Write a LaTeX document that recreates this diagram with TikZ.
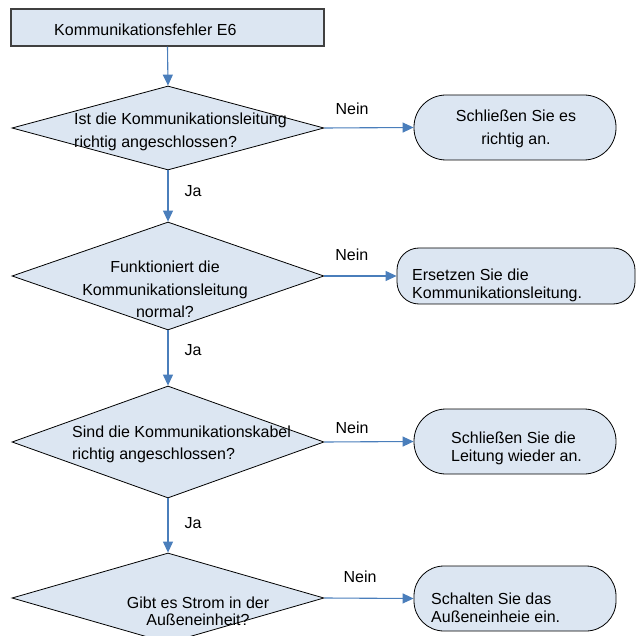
\documentclass[tikz,border=0pt]{standalone}
\usepackage{fontspec}
\setmainfont{Liberation Sans}
\usetikzlibrary{shapes.geometric, arrows.meta, positioning}

\definecolor{boxfill}{RGB}{220,230,242}
\definecolor{arrowblue}{RGB}{74,126,187}

\begin{document}
\begin{tikzpicture}[x=1pt, y=-1pt,
    title/.style={rectangle, draw=black!75, line width=1.2pt, fill=boxfill, minimum width=313pt, minimum height=37pt, inner sep=0pt},
    question/.style={diamond, draw=black, line width=0.8pt, fill=boxfill, inner sep=0pt, minimum width=312pt},
    answer/.style={rectangle, draw=black, line width=0.8pt, fill=boxfill, inner sep=0pt, minimum width=202pt, minimum height=65pt, rounded corners=32pt},
    txt/.style={font=\fontsize{16}{23}\selectfont, inner sep=0pt},
    lbl/.style={font=\fontsize{16}{19}\selectfont, inner sep=0pt},
    arr/.style={-{Triangle[length=11pt, width=10pt]}, line width=1.1pt, draw=arrowblue}
]
    \useasboundingbox (0,0) rectangle (637,636);

    % Kopf: Fehlermeldung
    \node[title] (fault) at (167.5,27.5) {};
    \node[txt, anchor=west] (fault-text) at (54,30) {Kommunikationsfehler E6};

    % Linke Spalte: Abfragen (von oben nach unten)
    \node[question, minimum height=84pt] (q1) at (168,128) {};
    \node[txt, anchor=west, align=left] (q1-text) at (74,131.5) {Ist die Kommunikationsleitung\\richtig angeschlossen?};

    \node[question, minimum height=108pt] (q2) at (168,276) {};
    \node[txt, align=center, font=\fontsize{16}{22.5}\selectfont] (q2-text) at (165,289.5) {Funktioniert die\\Kommunikationsleitung\\normal?};

    \node[question, minimum height=112pt] (q3) at (168,442) {};
    \node[txt, anchor=west, align=left, font=\fontsize{16}{22}\selectfont] (q3-text) at (72,444) {Sind die Kommunikationskabel\\richtig angeschlossen?};

    \node[question, minimum height=90pt] (q4) at (168,598) {};
    \node[txt, align=center, font=\fontsize{16}{17}\selectfont] (q4-text) at (198,611.5) {Gibt es Strom in der\\Außeneinheit?};

    % Rechte Spalte: Massnahmen
    \node[answer] (a1) at (515,127.5) {};
    \node[txt, align=center] (a1-text) at (516,128.5) {Schließen Sie es\\richtig an.};

    \node[answer, minimum width=238pt, minimum height=56pt, rounded corners=22pt] (a2) at (516,276) {};
    \node[txt, anchor=west, align=left, font=\fontsize{16}{18}\selectfont] (a2-text) at (412,285) {Ersetzen Sie die\\Kommunikationsleitung.};

    \node[answer] (a3) at (515,441.5) {};
    \node[txt, anchor=west, align=left, font=\fontsize{16}{17.5}\selectfont] (a3-text) at (451,448.5) {Schließen Sie die\\Leitung wieder an.};

    \node[answer, rounded corners=30pt] (a4) at (515,598.5) {};
    \node[txt, anchor=west, align=left, font=\fontsize{16}{18}\selectfont] (a4-text) at (431,608) {Schalten Sie das\\Außeneinheie ein.};

    % Ja-Zweige
    \draw[arr] (fault.south) -- (q1.north);
    \draw[arr] (q1.south) -- node[lbl, pos=0.4, right=16pt] {Ja} (q2.north);
    \draw[arr] (q2.south) -- node[lbl, pos=0.35, right=16pt] {Ja} (q3.north);
    \draw[arr] (q3.south) -- node[lbl, pos=0.45, right=16pt] {Ja} (q4.north);

    % Nein-Zweige
    \draw[arr] (q1.east) -- node[lbl, pos=0.31, above=13pt] {Nein} (a1.west);
    \draw[arr] (q2.east) -- node[lbl, pos=0.38, above=15pt] {Nein} (a2.west |- q2.east);
    \draw[arr] (q3.east) -- node[lbl, pos=0.31, above=8pt] {Nein} (a3.west);
    \draw[arr] (q4.east) -- node[lbl, pos=0.4, above=15pt] {Nein} (a4.west);
\end{tikzpicture}
\end{document}
